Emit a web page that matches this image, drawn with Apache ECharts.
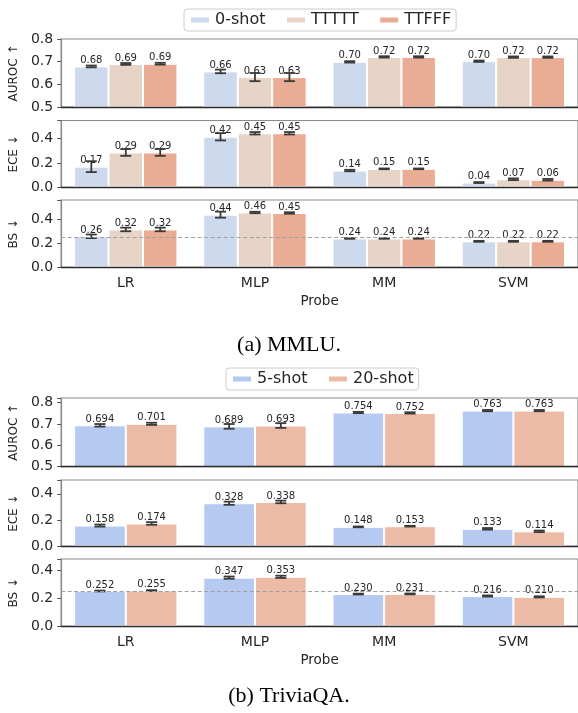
<!DOCTYPE html>
<html><head><meta charset="utf-8">
<script src="https://cdn.jsdelivr.net/npm/echarts@6/dist/echarts.min.js"></script>
<style>html,body{margin:0;padding:0;background:#fff}#c{width:578px;height:713px}</style>
</head><body><div id="c"></div>
<script>
// ---------- data ----------
const categories = ['LR', 'MLP', 'MM', 'SVM'];
const metricNames = ['AUROC ↑', 'ECE ↓', 'BS ↓'];
const xAxisTitle = 'Probe';
const captionA = '(a) MMLU.';
const captionB = '(b) TriviaQA.';

// (a) MMLU
const mmluSeries = ['0-shot', 'TTTTT', 'TTFFF'];
const mmluAuroc = [[0.679, 0.657, 0.699, 0.702], [0.690, 0.632, 0.721, 0.720], [0.691, 0.632, 0.721, 0.720]];
const mmluAurocErr = [[0.004, 0.008, 0.003, 0.003], [0.004, 0.018, 0.003, 0.003], [0.004, 0.018, 0.003, 0.003]];
const mmluEce = [[0.170, 0.416, 0.138, 0.039], [0.287, 0.445, 0.152, 0.066], [0.287, 0.445, 0.152, 0.062]];
const mmluEceErr = [[0.045, 0.030, 0.006, 0.004], [0.028, 0.010, 0.003, 0.007], [0.028, 0.010, 0.003, 0.007]];
const mmluBs = [[0.258, 0.438, 0.240, 0.216], [0.315, 0.456, 0.240, 0.216], [0.315, 0.452, 0.240, 0.216]];
const mmluBsErr = [[0.015, 0.025, 0.003, 0.004], [0.015, 0.006, 0.003, 0.004], [0.015, 0.006, 0.003, 0.004]];

// (b) TriviaQA
const tqaSeries = ['5-shot', '20-shot'];
const tqaAuroc = [[0.694, 0.689, 0.754, 0.763], [0.701, 0.693, 0.752, 0.763]];
const tqaAurocErr = [[0.006, 0.011, 0.003, 0.003], [0.005, 0.011, 0.003, 0.003]];
const tqaEce = [[0.158, 0.328, 0.148, 0.133], [0.174, 0.338, 0.153, 0.114]];
const tqaEceErr = [[0.008, 0.012, 0.003, 0.006], [0.010, 0.010, 0.003, 0.006]];
const tqaBs = [[0.252, 0.347, 0.230, 0.216], [0.255, 0.353, 0.231, 0.210]];
const tqaBsErr = [[0.003, 0.008, 0.003, 0.004], [0.003, 0.008, 0.003, 0.004]];

const refLine = 0.25;

// ---------- styles / layout ----------
const mmluColors = ['#cdd9ec', '#e8d3c7', '#e9ad95'];
const tqaColors = ['#b5c9f1', '#ecbba6'];
const FONT = 'DejaVu Sans';
const plotLeft = 61;

const panels = [
  // MMLU
  {top: 39, height: 68, min: 0.5, max: 0.8, interval: 0.1, vals: mmluAuroc, errs: mmluAurocErr, names: mmluSeries, colors: mmluColors, dec: 2, metric: 0},
  {top: 120.5, height: 66.8, min: 0, max: 0.55, interval: 0.2, vals: mmluEce, errs: mmluEceErr, names: mmluSeries, colors: mmluColors, dec: 2, metric: 1},
  {top: 200, height: 67.3, min: 0, max: 0.56, interval: 0.2, vals: mmluBs, errs: mmluBsErr, names: mmluSeries, colors: mmluColors, dec: 2, metric: 2, ref: true},
  // TriviaQA
  {top: 398, height: 68.7, min: 0.5, max: 0.822, interval: 0.1, vals: tqaAuroc, errs: tqaAurocErr, names: tqaSeries, colors: tqaColors, dec: 3, metric: 0},
  {top: 480, height: 66.3, min: 0, max: 0.505, interval: 0.2, vals: tqaEce, errs: tqaEceErr, names: tqaSeries, colors: tqaColors, dec: 3, metric: 1},
  {top: 559, height: 67.3, min: 0, max: 0.48, interval: 0.2, vals: tqaBs, errs: tqaBsErr, names: tqaSeries, colors: tqaColors, dec: 3, metric: 2, ref: true}
];

function errRender(n, idx) {
  return function (params, api) {
    const ci = api.value(0), v = api.value(1), e = api.value(2);
    const bw = api.size([1, 0])[0] * 0.8 / n;
    const off = (idx - (n - 1) / 2) * bw;
    const x = api.coord([ci, v])[0] + off;
    const y1 = api.coord([ci, v + e])[1];
    const y2 = api.coord([ci, v - e])[1];
    const cap = 5.5;
    const style = {stroke: '#3a3a3a', lineWidth: 1.8};
    return {type: 'group', children: [
      {type: 'line', shape: {x1: x, y1: y1, x2: x, y2: y2}, style: style},
      {type: 'line', shape: {x1: x - cap, y1: y1, x2: x + cap, y2: y1}, style: style},
      {type: 'line', shape: {x1: x - cap, y1: y2, x2: x + cap, y2: y2}, style: style}
    ]};
  };
}

const grid = [], xAxis = [], yAxis = [], series = [];
panels.forEach(function (p, gi) {
  const isBottom = p.metric === 2;
  grid.push({left: plotLeft, right: -3, top: p.top, height: p.height, show: true,
    borderColor: '#8a8a8a', borderWidth: 1.2, backgroundColor: 'transparent'});
  xAxis.push({type: 'category', gridIndex: gi, data: categories, z: 10,
    axisLine: {show: true, lineStyle: {color: '#2b2b2b', width: 1.3}},
    axisTick: {show: false},
    axisLabel: {show: isBottom, fontFamily: FONT, fontSize: 14, color: '#262626', margin: 9},
    name: isBottom ? xAxisTitle : '', nameLocation: 'middle', nameGap: 27,
    nameTextStyle: {fontFamily: FONT, fontSize: 13.5, color: '#262626'}});
  const iv = p.interval;
  yAxis.push({type: 'value', gridIndex: gi, min: p.min, max: p.max, interval: iv,
    axisLine: {show: true, lineStyle: {color: '#8a8a8a', width: 1.2}},
    axisTick: {show: true, length: 4, lineStyle: {color: '#555', width: 1}},
    splitLine: {show: false},
    axisLabel: {fontFamily: FONT, fontSize: 14, color: '#262626', margin: 8,
      formatter: function (v) { const k = v / iv; return Math.abs(k - Math.round(k)) < 1e-6 ? v.toFixed(1) : ''; }},
    name: metricNames[p.metric], nameLocation: 'middle', nameRotate: 90, nameGap: 39,
    nameTextStyle: {fontFamily: FONT, fontSize: 12, color: '#262626'}});
  const n = p.names.length;
  p.names.forEach(function (nm, si) {
    series.push({type: 'bar', name: nm, xAxisIndex: gi, yAxisIndex: gi,
      data: p.vals[si], barGap: '0%', barCategoryGap: '20%',
      itemStyle: {color: p.colors[si], borderColor: '#ffffff', borderWidth: 1},
      label: {show: true, position: 'top', distance: 1, fontFamily: FONT, fontSize: 10, color: '#262626',
        formatter: (function (d) { return function (pr) { return pr.value.toFixed(d); }; })(p.dec)},
      emphasis: {disabled: true}, animation: false, z: 2});
  });
  p.names.forEach(function (nm, si) {
    const s = {type: 'custom', xAxisIndex: gi, yAxisIndex: gi,
      renderItem: errRender(n, si),
      data: categories.map(function (c, ci) { return [ci, p.vals[si][ci], p.errs[si][ci]]; }),
      encode: {x: 0, y: 1}, z: 3, silent: true, animation: false};
    if (p.ref && si === n - 1) {
      s.markLine = {silent: true, symbol: 'none', label: {show: false},
        lineStyle: {type: [4, 2.5], color: '#a0a0a0', width: 1},
        data: [{yAxis: refLine}], animation: false};
    }
    series.push(s);
  });
});

const legendCommon = {orient: 'horizontal', itemWidth: 20, itemHeight: 7, itemGap: 19.5,
  icon: 'rect', selectedMode: false, borderColor: '#cccccc', borderWidth: 1, borderRadius: 3,
  padding: [3, 5, 3, 5], backgroundColor: '#ffffff',
  textStyle: {fontFamily: FONT, fontSize: 16, color: '#262626', padding: [0, 0, 0, 0]}};

const option = {
  animation: false,
  backgroundColor: '#ffffff',
  grid: grid, xAxis: xAxis, yAxis: yAxis, series: series,
  legend: [
    Object.assign({}, legendCommon, {data: mmluSeries, left: 184, top: 9}),
    Object.assign({}, legendCommon, {data: tqaSeries, left: 226, top: 368})
  ],
  graphic: [
    {type: 'text', left: 'center', top: 334, style: {text: captionA, font: '22px "Liberation Serif"', fill: '#000'}},
    {type: 'text', left: 'center', top: 685, style: {text: captionB, font: '22px "Liberation Serif"', fill: '#000'}}
  ]
};
const chart = echarts.init(document.getElementById('c'), null, {renderer: 'canvas'});
chart.setOption(option);
</script>
</body></html>
